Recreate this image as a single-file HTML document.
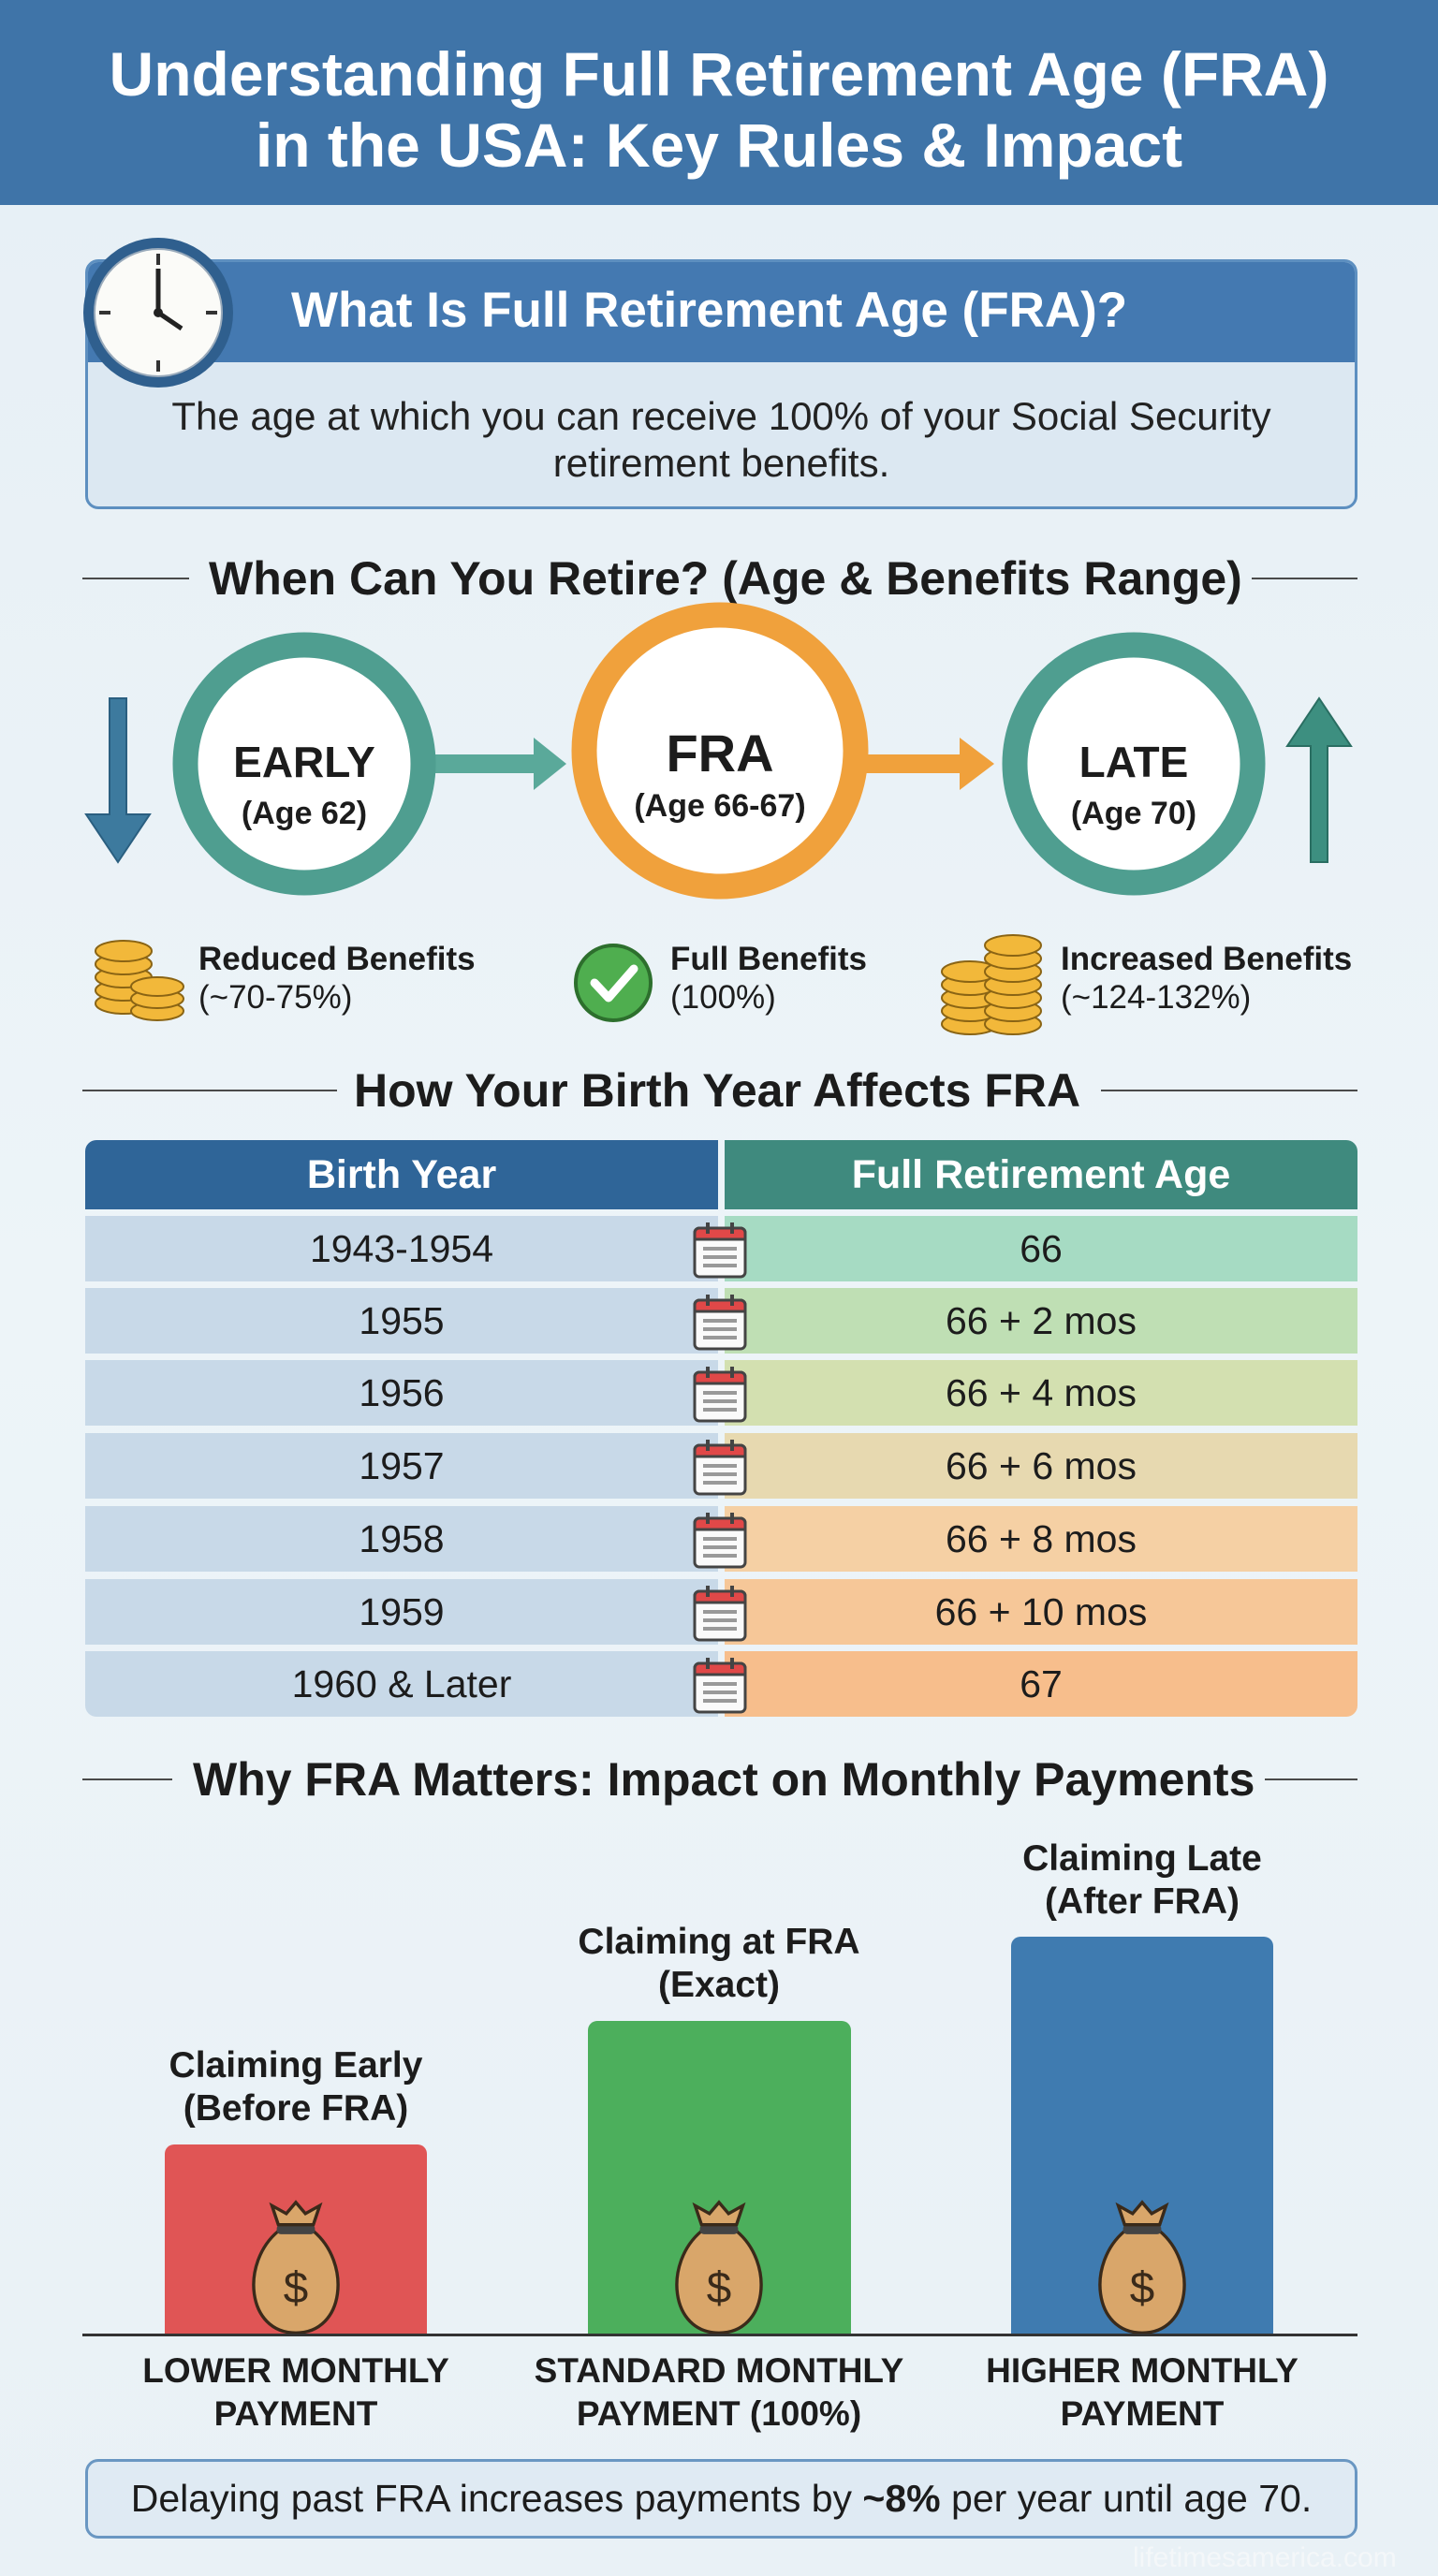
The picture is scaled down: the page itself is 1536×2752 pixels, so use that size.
<!DOCTYPE html>
<html><head><meta charset="utf-8"><style>
*{margin:0;padding:0;box-sizing:border-box}
body{width:1536px;height:2752px;overflow:hidden;font-family:"Liberation Sans",sans-serif;background:linear-gradient(180deg,#e6eff5 0%,#edf4f8 50%,#e9f1f6 100%);position:relative;color:#1c1c1c}
.abs{position:absolute}
.c{text-align:center}
.hdr{left:0;top:0;width:1536px;height:219px;background:#3f74a8;color:#fff;font-weight:bold;font-size:66px;line-height:76px;padding-top:41px;text-align:center;white-space:nowrap}
.line{height:2px;background:#4a4a4a}
.h2{font-weight:bold;font-size:50px;white-space:nowrap;transform:translateY(-50%)}
.row{position:absolute;height:70px;font-size:41px;line-height:70px;text-align:center}
.bl{left:91px;width:676px;background:#c8d9e8}
.br{left:774px;width:676px}
.lab{font-weight:bold;font-size:39px;line-height:46px;text-align:center;width:400px;white-space:nowrap}
</style></head><body>
<div class="abs hdr">Understanding Full Retirement Age (FRA)<br>in the USA: Key Rules &amp; Impact</div>

<div class="abs" style="left:91px;top:277px;width:1359px;height:267px;border:3px solid #5d8fc0;border-radius:14px;background:#dce8f2;overflow:hidden">
 <div style="height:107px;background:#4479b1"></div>
</div>
<div class="abs" style="left:311px;top:301px;color:#fff;font-weight:bold;font-size:53px;white-space:nowrap">What Is Full Retirement Age (FRA)?</div>
<div class="abs c" style="left:91px;top:420px;width:1359px;font-size:42px;line-height:50px;color:#222">The age at which you can receive 100% of your Social Security<br>retirement benefits.</div>
<svg class="abs" style="left:84px;top:249px" width="170" height="170" viewBox="0 0 170 170">
 <circle cx="85" cy="85" r="80" fill="#2f5f8e"/><circle cx="85" cy="85" r="68" fill="#fbfbf8" stroke="#9ab" stroke-width="2"/>
 <g stroke="#333" stroke-width="4">
 <line x1="85" y1="22" x2="85" y2="34"/><line x1="85" y1="136" x2="85" y2="148"/><line x1="22" y1="85" x2="34" y2="85"/><line x1="136" y1="85" x2="148" y2="85"/>
 </g>
 <line x1="85" y1="85" x2="85" y2="38" stroke="#222" stroke-width="5"/><line x1="85" y1="85" x2="110" y2="102" stroke="#222" stroke-width="5"/>
 <circle cx="85" cy="85" r="5" fill="#222"/>
</svg>

<div class="abs line" style="left:88px;top:617px;width:114px"></div>
<div class="abs line" style="left:1337px;top:617px;width:113px"></div>
<div class="abs h2" style="left:223px;top:618px">When Can You Retire? (Age &amp; Benefits Range)</div>

<svg class="abs" style="left:0;top:640px" width="1536" height="480" viewBox="0 640 1536 480">
 <polygon points="117,746 135,746 135,870 160,870 126,921 92,870 117,870" fill="#3d7a9e" stroke="#2a5f80" stroke-width="2"/>
 <polygon points="1400,921 1418,921 1418,797 1443,797 1409,746 1375,797 1400,797" fill="#3d8f80" stroke="#2a6e62" stroke-width="2"/>
 <polygon points="462,806 570,806 570,788 605,816 570,844 570,826 462,826" fill="#5aa99a"/>
 <polygon points="905,806 1025,806 1025,788 1062,816 1025,844 1025,826 905,826" fill="#f0a13c"/>
 <circle cx="325" cy="816" r="127" fill="#fff" stroke="#4f9e90" stroke-width="27"/>
 <circle cx="769" cy="802" r="145" fill="#fff" stroke="#f0a13c" stroke-width="27"/>
 <circle cx="1211" cy="816" r="127" fill="#fff" stroke="#4f9e90" stroke-width="27"/>
 <g font-family="Liberation Sans" font-weight="bold" text-anchor="middle" fill="#1c1c1c">
 <text x="325" y="830" font-size="46">EARLY</text><text x="325" y="880" font-size="34">(Age 62)</text>
 <text x="769" y="824" font-size="56">FRA</text><text x="769" y="872" font-size="34">(Age 66-67)</text>
 <text x="1211" y="830" font-size="46">LATE</text><text x="1211" y="880" font-size="34">(Age 70)</text>
 </g>
 <g stroke="#8a6414" stroke-width="2" fill="#f2b83a">
 <ellipse cx="132" cy="1072" rx="30" ry="11"/><ellipse cx="132" cy="1058" rx="30" ry="11"/><ellipse cx="132" cy="1044" rx="30" ry="11"/><ellipse cx="132" cy="1030" rx="30" ry="11"/><ellipse cx="132" cy="1016" rx="30" ry="11"/>
 <ellipse cx="168" cy="1080" rx="28" ry="10"/><ellipse cx="168" cy="1067" rx="28" ry="10"/><ellipse cx="168" cy="1054" rx="28" ry="10"/>
 </g>
 <circle cx="655" cy="1050" r="40" fill="#4fae4f" stroke="#2d6f2d" stroke-width="4"/>
 <polyline points="635,1050 650,1066 677,1035" fill="none" stroke="#fff" stroke-width="9" stroke-linecap="round" stroke-linejoin="round"/>
 <g stroke="#8a6414" stroke-width="2" fill="#f2b83a">
 <ellipse cx="1036" cy="1094" rx="30" ry="11"/><ellipse cx="1036" cy="1080" rx="30" ry="11"/><ellipse cx="1036" cy="1066" rx="30" ry="11"/><ellipse cx="1036" cy="1052" rx="30" ry="11"/><ellipse cx="1036" cy="1038" rx="30" ry="11"/>
 <ellipse cx="1082" cy="1094" rx="30" ry="11"/><ellipse cx="1082" cy="1080" rx="30" ry="11"/><ellipse cx="1082" cy="1066" rx="30" ry="11"/><ellipse cx="1082" cy="1052" rx="30" ry="11"/><ellipse cx="1082" cy="1038" rx="30" ry="11"/><ellipse cx="1082" cy="1024" rx="30" ry="11"/><ellipse cx="1082" cy="1010" rx="30" ry="11"/>
 </g>
</svg>
<div class="abs" style="left:212px;top:1004px;font-size:35px;line-height:41px;white-space:nowrap"><b>Reduced Benefits</b><br>(~70-75%)</div>
<div class="abs" style="left:716px;top:1004px;font-size:35px;line-height:41px;white-space:nowrap"><b>Full Benefits</b><br>(100%)</div>
<div class="abs" style="left:1133px;top:1004px;font-size:35px;line-height:41px;white-space:nowrap"><b>Increased Benefits</b><br>(~124-132%)</div>

<div class="abs line" style="left:88px;top:1164px;width:272px"></div>
<div class="abs line" style="left:1176px;top:1164px;width:274px"></div>
<div class="abs h2" style="left:378px;top:1165px">How Your Birth Year Affects FRA</div>

<div class="abs" style="left:91px;top:1218px;width:676px;height:74px;background:#2f6598;border-radius:12px 0 0 0;color:#fff;font-weight:bold;font-size:43px;line-height:74px;text-align:center">Birth Year</div>
<div class="abs" style="left:774px;top:1218px;width:676px;height:74px;background:#3f8a7e;border-radius:0 12px 0 0;color:#fff;font-weight:bold;font-size:43px;line-height:74px;text-align:center">Full Retirement Age</div>

<div class="row bl" style="top:1299px">1943-1954</div><div class="row br" style="top:1299px;background:#a6dbc3">66</div>
<div class="row bl" style="top:1376px">1955</div><div class="row br" style="top:1376px;background:#bfdfb4">66 + 2 mos</div>
<div class="row bl" style="top:1453px">1956</div><div class="row br" style="top:1453px;background:#d3e0b0">66 + 4 mos</div>
<div class="row bl" style="top:1531px">1957</div><div class="row br" style="top:1531px;background:#e7d9b0">66 + 6 mos</div>
<div class="row bl" style="top:1609px">1958</div><div class="row br" style="top:1609px;background:#f5d0a4">66 + 8 mos</div>
<div class="row bl" style="top:1687px">1959</div><div class="row br" style="top:1687px;background:#f6c798">66 + 10 mos</div>
<div class="row bl" style="top:1764px;border-radius:0 0 0 12px">1960 &amp; Later</div><div class="row br" style="top:1764px;background:#f7be8c;border-radius:0 0 12px 0">67</div>

<svg class="abs" style="left:0;top:0" width="1536" height="1850">
 <defs><g id="cal">
  <rect x="-27" y="-24" width="54" height="52" rx="5" fill="#fafafa" stroke="#444" stroke-width="3"/>
  <path d="M-27,-12 v-7 a5,5 0 0 1 5,-5 h44 a5,5 0 0 1 5,5 v7z" fill="#e04848" stroke="#444" stroke-width="3"/>
  <line x1="-13" y1="-30" x2="-13" y2="-18" stroke="#444" stroke-width="4"/><line x1="13" y1="-30" x2="13" y2="-18" stroke="#444" stroke-width="4"/>
  <g fill="#999"><rect x="-18" y="-4" width="36" height="4"/><rect x="-18" y="5" width="36" height="4"/><rect x="-18" y="14" width="36" height="4"/></g>
 </g></defs>
 <use href="#cal" x="769" y="1336"/><use href="#cal" x="769" y="1413"/><use href="#cal" x="769" y="1490"/><use href="#cal" x="769" y="1568"/><use href="#cal" x="769" y="1646"/><use href="#cal" x="769" y="1724"/><use href="#cal" x="769" y="1801"/>
</svg>

<div class="abs line" style="left:88px;top:1900px;width:96px"></div>
<div class="abs line" style="left:1351px;top:1900px;width:99px"></div>
<div class="abs h2" style="left:206px;top:1901px">Why FRA Matters: Impact on Monthly Payments</div>

<div class="abs" style="left:176px;top:2291px;width:280px;height:204px;background:#e05555;border-radius:10px 10px 0 0"></div>
<div class="abs" style="left:628px;top:2159px;width:281px;height:336px;background:#4caf5c;border-radius:10px 10px 0 0"></div>
<div class="abs" style="left:1080px;top:2069px;width:280px;height:426px;background:#3f7bb0;border-radius:10px 10px 0 0"></div>

<svg class="abs" style="left:0;top:2340px" width="1536" height="160">
 <defs><g id="bag">
  <path d="M-22,-10 C-70,30 -62,118 0,118 C62,118 70,30 22,-10 Z" fill="#d9a66a" stroke="#3a2a1a" stroke-width="4"/>
  <rect x="-24" y="-18" width="48" height="12" rx="5" fill="#444"/>
  <path d="M-22,-18 L-30,-42 L-12,-32 L0,-46 L12,-32 L30,-42 L22,-18 Z" fill="#d9a66a" stroke="#3a2a1a" stroke-width="4"/>
  <text x="0" y="80" font-family="Liberation Sans" font-size="56" text-anchor="middle" fill="#3a2a1a">$</text>
 </g></defs>
 <g transform="translate(316,52) scale(0.85)"><use href="#bag"/></g>
 <g transform="translate(768,52) scale(0.85)"><use href="#bag"/></g>
 <g transform="translate(1220,52) scale(0.85)"><use href="#bag"/></g>
</svg>
<div class="abs" style="left:88px;top:2493px;width:1362px;height:3px;background:#333"></div>

<div class="abs lab" style="left:116px;top:2184px">Claiming Early<br>(Before FRA)</div>
<div class="abs lab" style="left:568px;top:2052px">Claiming at FRA<br>(Exact)</div>
<div class="abs lab" style="left:1020px;top:1963px">Claiming Late<br>(After FRA)</div>

<div class="abs lab" style="left:116px;top:2510px;width:400px;font-size:37px">LOWER MONTHLY<br>PAYMENT</div>
<div class="abs lab" style="left:538px;top:2510px;width:460px;font-size:37px">STANDARD MONTHLY<br>PAYMENT (100%)</div>
<div class="abs lab" style="left:1020px;top:2510px;width:400px;font-size:37px">HIGHER MONTHLY<br>PAYMENT</div>

<div class="abs c" style="left:91px;top:2627px;width:1359px;height:85px;border:3px solid #6a97c2;border-radius:14px;background:#dfeaf3;font-size:41px;line-height:79px;white-space:nowrap">Delaying past FRA increases payments by <b>~8%</b> per year until age 70.</div>
<div class="abs" style="left:1210px;top:2716px;font-size:30px;color:#f4f7f9">lifetimesamerica.com</div>
</body></html>
